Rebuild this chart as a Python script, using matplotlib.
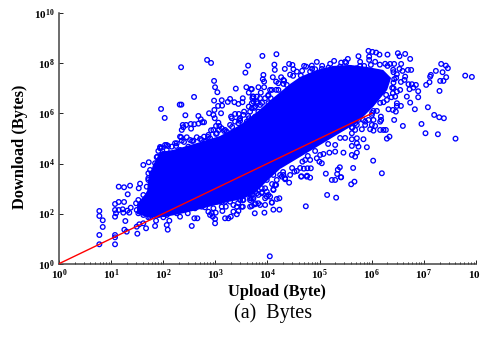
import numpy as np
from matplotlib import pyplot as plt
from matplotlib.ticker import LogLocator, NullFormatter

# all values are log10(bytes)
rings_left = [
    (.774,.775),(1.075,.775),(.774,1.146),(1.075,1.146),(1.075,1.054),(1.503,1.198),(.839,1.466),(1.254,1.358),
    (1.299,1.278),(.839,1.733),(.774,1.905),(.774,2.105),(1.075,2.384),(1.075,2.144),(1.094,2.013),(1.075,1.877),
    (1.146,2.464),(1.248,2.464),(1.146,2.144),(1.222,2.172),(1.234,2.037),(1.311,2.117),(1.349,2.037),(1.376,2.236),
    (1.273,1.705),(1.146,3.075),(1.248,3.051),(1.363,3.115),(1.318,2.771),(1.53,3.011),(1.555,3.195),(1.618,3.942),
    (1.722,4.05),(1.714,3.61),(1.714,3.343),(1.491,1.478),(1.541,1.573),(1.618,1.613),(1.67,1.414),(1.714,1.853),
    (1.862,1.717),(1.843,1.506),(2.067,1.545),(2.086,1.358),(2.002,1.853),(2.117,1.717),(2.322,1.877),(2.47,2.013),
    (2.597,1.813),(2.654,1.813),(2.547,1.506),(1.478,2.412),(1.522,2.544),(1.618,2.744),(1.491,2.144),(1.747,3.742),
    (1.683,3.075),(1.727,2.811),(1.887,4.273),(1.843,4.01),(1.779,3.61),(1.714,3.411),
    (1.522,2.013),(1.618,1.945),(1.747,1.853),(1.906,1.945),(2.067,1.945),(2.259,2.013),(2.451,2.212),(2.61,2.212),(2.77,2.476),
]
rings_upper_left = [
    (2.841,8.135),(2.917,8.015),(2.342,7.843),(3.628,7.907),(3.576,7.628),(2.975,7.297),(2.994,7.045),(3.038,6.845),
    (3.392,6.989),(3.595,7.045),(3.685,6.977),(3.826,7.045),(3.641,6.829),(3.794,6.67),(3.71,6.605),(2.591,6.657),
    (2.975,6.51),(3.122,6.526),(2.316,6.35),(2.348,6.35),(1.958,6.178),(2.028,5.819),(2.424,5.926),(3.052,6.298),
    (3.129,6.31),(3.282,6.578),(3.238,6.458),(3.365,6.446),(3.442,6.378),(3.526,6.605),(3.518,6.446),(3.641,6.27),
    (3.73,6.47),(3.806,6.406),(2.981,6.138),(2.879,6.006),(2.962,5.938),(3.109,6.006),(2.674,5.898),(2.72,5.767),
    (2.751,5.647),(2.783,5.647),(2.988,5.807),(3.378,5.978),(3.301,5.871),(3.449,5.978),(3.461,5.767),(3.551,6.07),
    (3.647,5.807),(2.374,5.539),(2.438,5.539),(2.355,5.339),(2.386,5.447),(2.528,5.579),(2.534,5.391),(2.597,5.567),
    (2.674,5.591),(3.058,5.631),(3.013,5.499),(3.077,5.499),(3.071,5.339),(2.917,5.327),(3.186,5.339),(3.378,5.671),
    (3.315,5.807),(2.342,5.048),(2.451,5.048),(2.643,5.048),(2.783,5.072),(2.355,4.912),(2.259,4.808),(2.067,4.74),
    (1.971,4.633),(1.906,4.501),(1.875,4.249),(2.163,4.673),(2.226,4.808),(2.482,4.673),(2.578,4.912),(2.739,4.94),
    (2.898,5.008),(2.067,4.541),(2.002,4.381),(2.322,4.541),(2.194,4.409),(1.939,4.609),(2.035,4.74),(2.322,5.072),
    (2.514,4.94),(2.802,4.872),
]
rings_top = [
    (3.902,8.295),(4.171,8.363),(4.132,7.947),(4.14,7.736),(4.415,7.975),(4.478,7.935),(4.332,7.776),(4.497,7.764),
    (4.562,7.668),(4.702,7.895),(4.741,7.867),(4.85,7.907),(4.946,8.055),(4.914,7.764),(5.042,7.776),(5.169,7.827),
    (5.278,8.095),(5.413,8.027),(5.509,8.027),(5.541,8.175),(5.745,8.283),(5.937,8.495),(6.013,8.455),(6.084,8.427),
    (6.148,8.347),(5.95,8.267),(5.95,8.135),(5.983,7.935),(5.714,7.804),(5.777,7.895),(5.854,7.895),(5.265,7.764),
    (5.393,7.867),(5.585,7.804),(4.102,7.444),(4.261,7.444),(4.434,7.548),(4.639,7.508),(4.818,7.668),(3.921,7.536),
    (3.91,7.364),(3.935,7.269),(4.165,7.269),(4.305,7.177),(3.935,7.045),(3.871,6.829),(4.017,6.737),(3.699,6.965),
    (3.718,6.67),(3.699,6.406),(3.762,6.27),(3.858,6.338),(3.954,6.138),(4.083,6.937),(4.063,6.605),(4.113,6.27),
]
rings_right = [
    (6.302,8.347),(6.501,8.403),(6.532,8.283),(6.641,8.375),(6.737,8.175),(6.155,7.947),(6.302,7.895),(6.353,7.975),
    (6.43,7.975),(6.564,7.975),(6.532,7.776),(6.59,7.696),(6.417,7.644),(6.482,7.564),(6.693,7.736),(6.756,7.736),
    (6.641,7.468),(6.628,7.336),(6.559,7.256),(6.43,7.364),(6.417,7.228),(6.705,7.165),(6.77,7.165),(6.847,7.137),
    (6.724,6.965),(6.8,7.029),(6.545,6.937),(6.482,6.869),(6.417,7.005),(6.405,6.805),(6.449,6.67),(6.378,6.645),
    (6.29,6.537),(6.225,6.446),(6.891,6.885),(6.673,6.67),(6.891,6.645),(6.737,6.43),(6.482,6.406),(6.482,6.298),
    (6.559,6.298),(6.321,6.166),(6.405,6.138),(6.462,6.07),(6.827,6.166),(6.43,5.739),(6.597,5.499),(6.225,5.339),
    (6.271,5.339),(6.161,5.339),(6.34,5.072),(6.29,4.992),(5.841,4.968),(5.906,4.649),(5.745,4.673),(5.618,4.701),
    (5.714,5.008),(5.714,4.808),(5.618,5.208),(5.618,4.968),(5.81,5.367),(5.714,5.539),(5.618,5.447),(5.969,5.367),
    (6.033,5.312),(6.065,5.499),(6.002,5.539),(6.175,5.871),(6.18,5.739),(6.161,5.671),(5.873,5.671),(5.937,5.739),
    (6.033,5.739),(6.098,6.098),(6.033,6.098),(6.002,5.939),(5.681,5.807),(5.681,5.607),(5.745,5.739),(7.332,7.975),
    (7.422,7.907),(7.46,7.804),(7.23,7.696),(7.358,7.644),(7.134,7.536),(7.12,7.468),(7.793,7.508),(7.921,7.456),
    (7.428,7.444),(7.313,7.297),(7.376,7.297),(7.108,7.245),(7.044,7.137),(7.3,6.897),(7.077,6.246),(7.198,5.939),
    (7.294,5.847),(7.384,5.807),(6.954,5.579),(7.031,5.208),(7.269,5.168),(7.607,4.992),(6.027,4.113),(6.194,3.61),
]
rings_low = [
    (4.645,3.475),(4.754,3.475),(4.818,3.435),(5.234,3.343),(5.298,3.343),(5.413,3.451),(5.605,3.171),(5.668,3.275),
    (5.144,2.744),(5.317,2.636),(4.735,2.292),(4.044,.296),(4.415,3.235),(4.113,2.943),(4.228,2.612),(4.178,2.584),
    (4.113,2.157),(4.228,2.157),(3.941,2.037),(3.756,2.013),(3.954,2.344),(4.083,2.436),(3.858,2.344),(3.762,2.372),
    (3.666,2.276),(3.526,2.276),(3.526,2.544),(3.699,2.744),(3.699,2.612),(3.794,2.811),(3.954,2.612),(4.017,2.744),
    (3.986,2.875),(3.891,3.011),(4.146,3.143),(4.178,3.343),(4.338,3.411),(4.274,3.475),(5.119,3.594),(5.349,3.754),
    (5.388,3.85),(5.336,3.582),(5.407,3.451),(5.643,3.822),(4.651,3.49),(4.76,3.514),(4.697,3.794),(4.766,3.81),
    (4.831,3.81),(4.516,3.674),(4.562,3.702),(4.67,4.073),(4.946,4.209),(4.996,4.073),(5.042,4.01),(4.773,4.301),
    (5.073,4.381),(5.188,4.433),(5.298,4.473),(5.457,4.433),(5.618,4.341),(5.681,4.273),(5.714,4.433),(4.338,3.371),
    (4.242,3.542),(4.305,3.542),(4.165,3.143),(4.113,2.971),(4.083,2.452),(3.825,2.412),(3.762,2.412),(3.699,2.304),
    (3.538,2.544),(3.474,2.544),(3.506,2.276),(3.442,2.105),(3.411,1.973),(3.346,2.077),(3.296,1.877),(3.25,1.813),
    (3.186,1.813),(3.134,2.105),(3.2,2.276),(3.282,2.476),(3.346,2.344),(2.994,1.613),(2.994,1.785),(2.95,1.877),
    (2.898,1.945),(3.006,2.037),(2.93,2.013),(2.802,2.252),(2.739,2.276),(2.866,2.077),(3.09,2.476),(3.186,2.476),
    (3.762,3.011),(3.762,2.875),(3.666,2.811),(3.73,2.612),(3.825,2.744),(3.954,3.011),(3.986,2.676),(4.05,2.676),
]
# rings that make the bumpy edge of the saturated part
rings_edge = [
    (1.939,4.66),(2.092,4.70),(2.246,4.70),(2.399,4.86),(2.553,4.90),(2.706,4.98),(2.86,5.06),(3.013,5.18),
    (3.167,5.30),(3.321,5.46),(3.474,5.70),(3.628,5.90),(3.743,6.22),(3.896,6.42),(4.012,6.70),(4.165,6.94),
    (4.319,7.30),(4.491,7.50),(4.664,7.70),(4.856,7.78),(5.048,7.90),(5.202,7.98),(5.489,8.06),(5.777,8.06),
    (6.065,8.06),(6.257,7.98),(6.411,7.74),(6.468,7.42),(6.392,7.02),(6.276,6.74),(6.161,6.42),(6.008,6.02),
    (5.835,5.74),(5.624,5.42),(5.393,5.02),(5.163,4.78),(4.914,4.50),(4.722,4.14),(4.472,3.82),(4.299,3.66),
    (4.088,3.18),(3.896,2.86),(3.666,2.54),(3.436,2.42),
]
rings_upper_band = [
    (3.73,6.67),(3.794,6.47),(3.699,6.206),(3.858,6.605),(3.954,6.605),(4.017,6.406),(3.825,6.07),(3.954,5.939),
    (4.05,6.937),(4.209,7.205),(4.209,6.937),(4.305,7.336),(4.37,7.137),(4.083,6.07),(4.146,5.939),(2.962,5.339),
    (3.122,5.407),(3.282,5.539),(3.442,5.607),(3.603,5.671),(3.762,5.871),(2.866,5.14),(3.027,5.208),(3.219,5.272),
    (3.538,5.939),(3.666,6.07),(3.474,5.807),
]
rings_lower_band = [
    (2.77,2.476),(2.898,2.412),(3.027,2.476),(3.154,2.544),(3.25,2.676),(3.378,2.676),(3.474,2.811),(3.603,2.943),
    (3.73,3.143),(3.858,3.211),(3.986,3.343),(4.113,3.542),(3.891,2.811),(3.666,2.612),(3.411,2.276),(3.122,2.276),
    (2.962,2.212),(2.802,2.412),(4.434,3.542),(4.626,3.822),(4.818,4.142),(5.01,4.341),(5.298,4.74),(5.489,5.02),
    (5.681,5.339),(5.873,5.539),
]
# the middle of the cloud is saturated, single rings can't be read there, so it is its outline
core_x = [1.497,1.747,2.035,2.322,2.649,2.937,3.244,3.532,3.762,3.992,4.242,4.626,5.01,5.393,5.72,6.027,6.296,6.372,
          6.219,5.912,5.585,5.259,4.952,4.626,4.434,4.107,3.8,3.474,3.09,2.649,2.188,1.939,1.804,1.708,1.689,1.497]
core_y = [1.985,1.825,1.865,1.985,2.145,2.304,2.464,2.584,2.824,3.303,3.782,4.261,4.74,5.22,5.619,6.258,6.937,7.416,
          7.736,7.855,7.935,7.895,7.736,7.456,7.177,6.617,6.058,5.539,5.1,4.82,4.541,4.461,3.942,3.343,2.863,2.384]
line_x = [1, 1e6]
line_y = [1, 1e6]
x_exps = list(range(0, 9))
y_exps = list(range(0, 11, 2))

plt.rcParams['font.family'] = 'Liberation Serif'
plt.rcParams['mathtext.fontset'] = 'custom'
plt.rcParams['mathtext.rm'] = 'Liberation Serif:bold'
plt.rcParams['mathtext.bf'] = 'Liberation Serif:bold'
plt.rcParams['mathtext.default'] = 'rm'

fig = plt.figure(figsize=(4.81, 3.51), dpi=100)
ax = fig.add_axes([59 / 481, 1 - 263.7 / 351, 417 / 481, 250.5 / 351])

rings = np.array(rings_left + rings_upper_left + rings_top + rings_right + rings_low + rings_edge
                 + rings_upper_band + rings_lower_band)
ax.fill(10.0 ** np.array(core_x), 10.0 ** np.array(core_y), color='#0000ff', lw=0, zorder=2)
ax.scatter(10.0 ** rings[:, 0], 10.0 ** rings[:, 1], s=11, facecolors='none', edgecolors='#0000ff',
           linewidths=0.95, zorder=3, clip_on=False)
ax.plot(line_x, line_y, color='#ff0000', lw=1.0, zorder=4)

ax.set_xscale('log')
ax.set_yscale('log')
ax.set_xlim(1, 1e8)
ax.set_ylim(1, 1e10)
ax.set_xticks([10.0 ** e for e in x_exps])
ax.set_xticklabels(['$10^{%d}$' % e for e in x_exps])
ax.set_yticks([10.0 ** e for e in y_exps])
ax.set_yticklabels(['$10^{%d}$' % e for e in y_exps])
ax.xaxis.set_minor_locator(LogLocator(base=10, subs=range(2, 10), numticks=12))
ax.xaxis.set_minor_formatter(NullFormatter())
ax.yaxis.set_minor_locator(plt.NullLocator())

ax.spines['top'].set_visible(False)
ax.spines['right'].set_visible(False)
for side in ['left', 'bottom']:
    ax.spines[side].set_linewidth(1.1)
    ax.spines[side].set_color('#444444')
ax.tick_params(which='major', direction='in', length=3, width=0.7, color='#222222', labelsize=8, pad=3)
ax.tick_params(which='minor', direction='in', length=1.8, width=0.7, color='#222222')

fig.text(277 / 481, 1 - 292 / 351, 'Upload (Byte)', fontsize=11.8, fontweight='bold', ha='center', va='center')
fig.text(20.5 / 481, 1 - 146.5 / 351, 'Download (Bytes)', fontsize=11.8, fontweight='bold', rotation=90,
         ha='center', va='center')
fig.text(273 / 481, 1 - 313 / 351, '(a)  Bytes', fontsize=14.5, ha='center', va='center')

fig.savefig('out.png', dpi=100)
